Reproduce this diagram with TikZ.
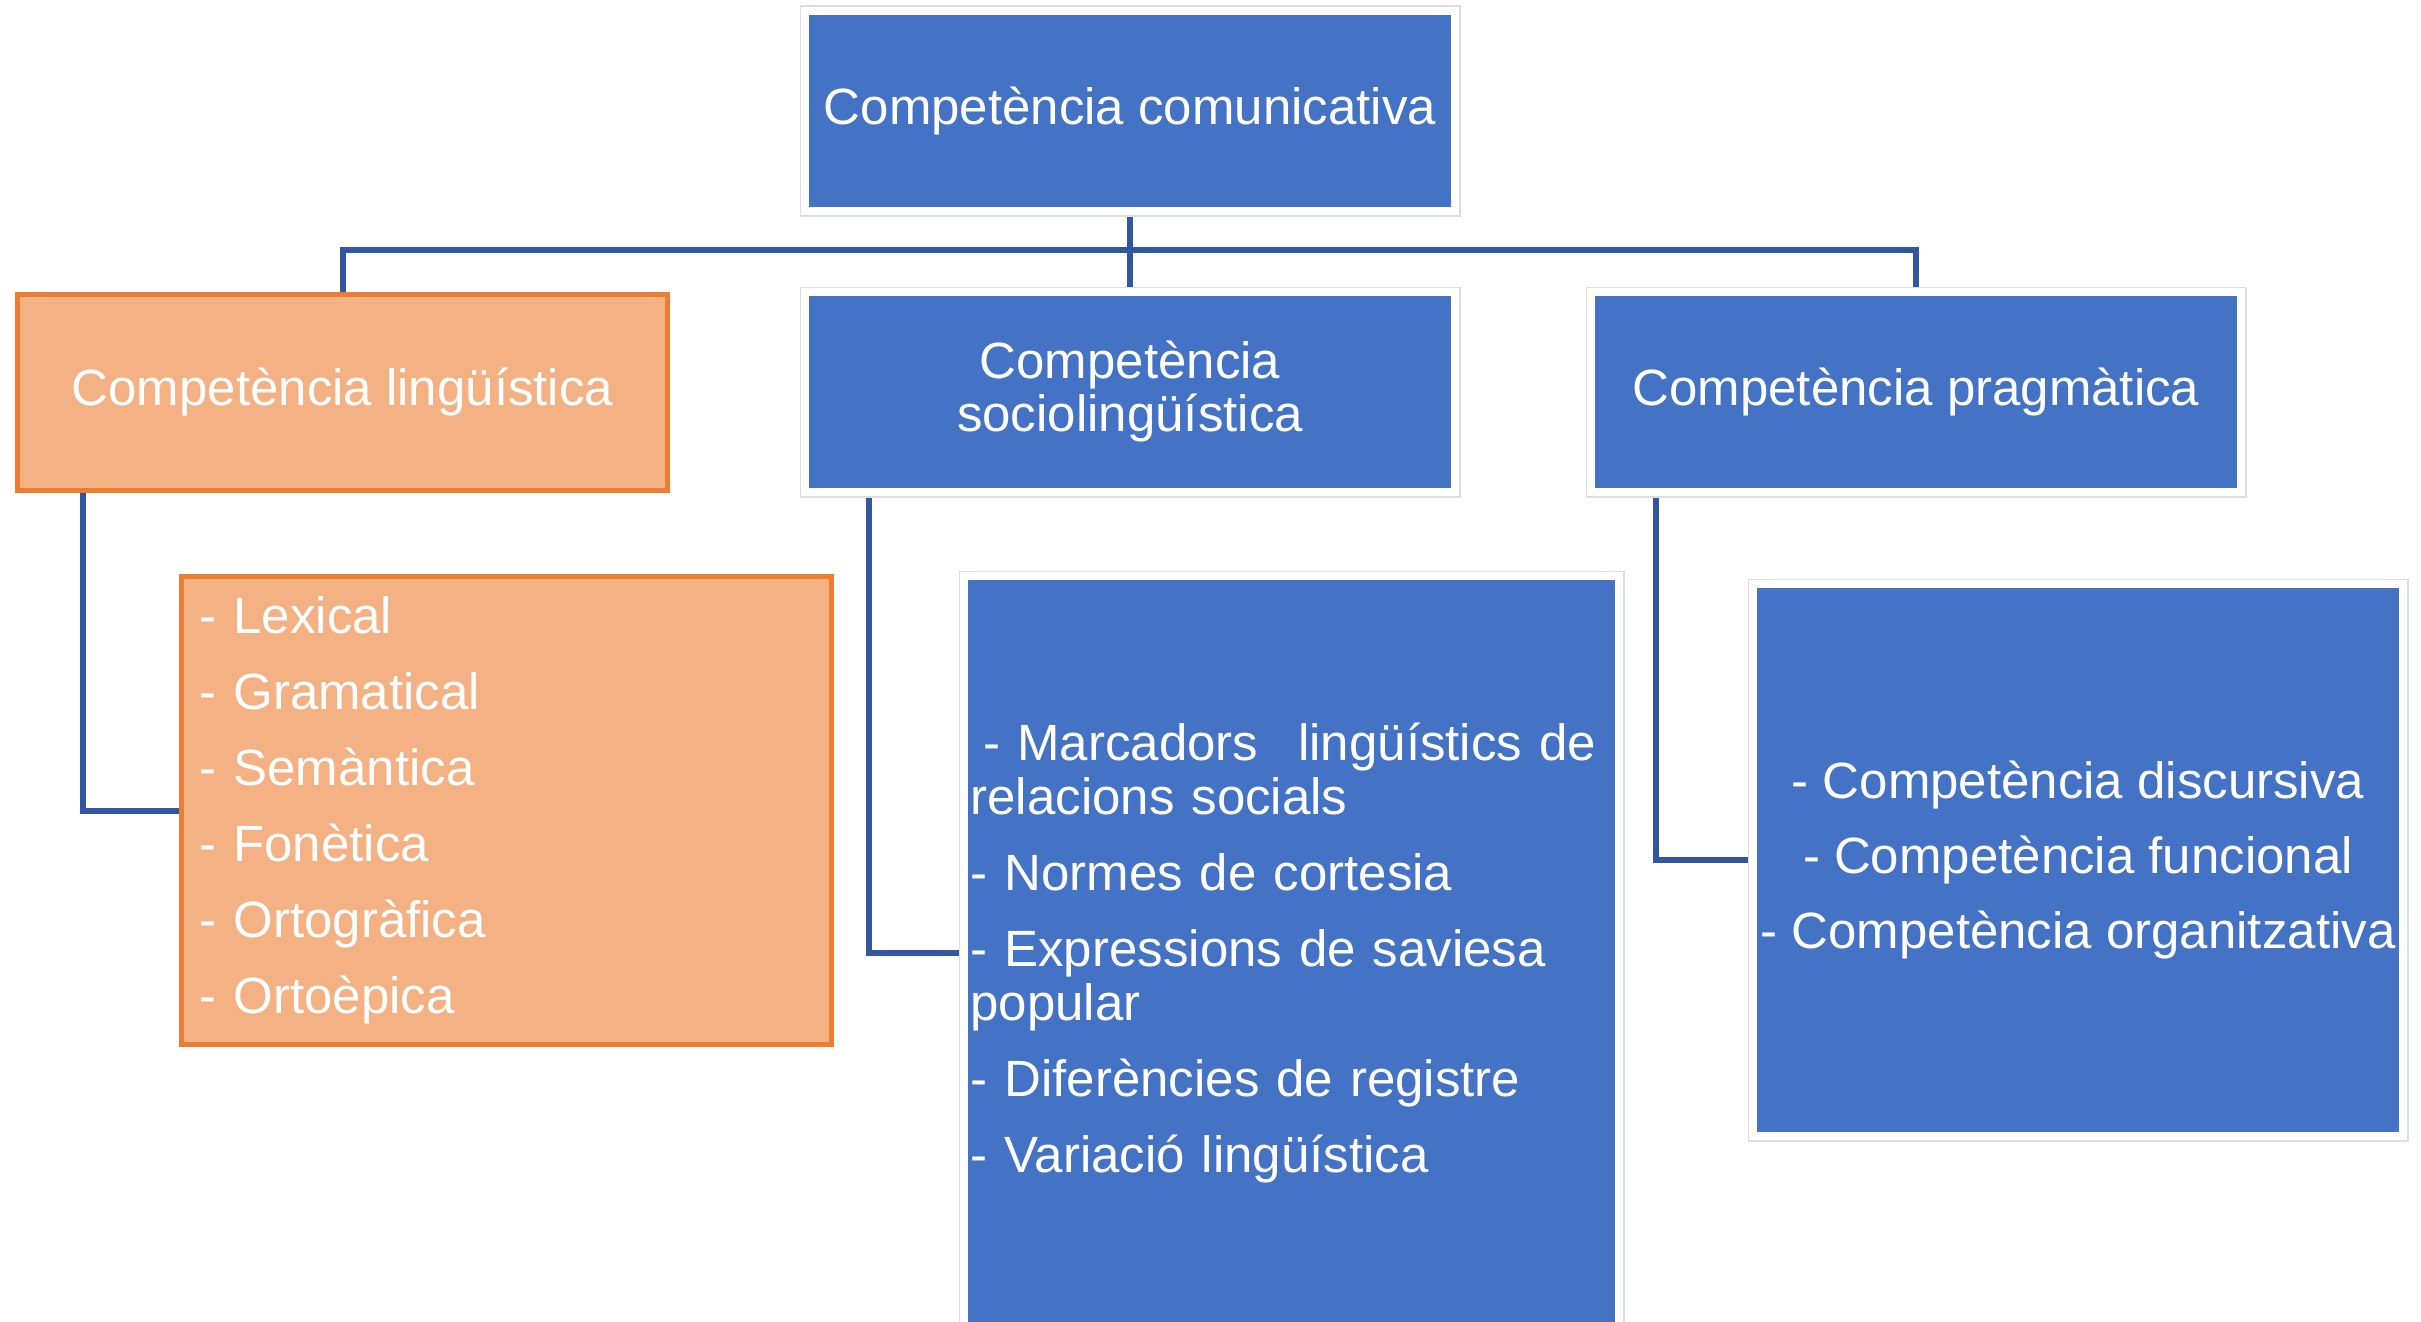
\documentclass[tikz,border=0pt]{standalone}
\usepackage{fontspec}
\setmainfont{Liberation Sans}
\usetikzlibrary{backgrounds}
\definecolor{boxblue}{HTML}{4472C4}
\definecolor{linkblue}{HTML}{3356A0}
\definecolor{orfill}{HTML}{F4B183}
\definecolor{orline}{HTML}{ED7D31}
\tikzset{
  bluebox/.style={rectangle, fill=boxblue, draw=white, line width=8pt,
    preaction={draw=black!13, line width=11pt}, inner sep=0pt,
    text=white, font=\fontsize{51}{53}\selectfont},
  orbox/.style={rectangle, fill=orfill, draw=orline, line width=5pt, inner sep=0pt,
    text=white, font=\fontsize{51}{53}\selectfont},
  conn/.style={draw=linkblue, line width=6pt, line cap=rect}
}
\begin{document}
\begin{tikzpicture}[x=1pt,y=-1pt]
\useasboundingbox (0,0) rectangle (2421,1322);

\node[bluebox, minimum width=650pt, minimum height=200pt] (top) at (1130,111) {Competència comunicativa};

\node[orbox, minimum width=650pt, minimum height=196pt] (lin) at (342.5,392.5) {Competència lingüística};
\node[bluebox, minimum width=650pt, minimum height=200pt, align=center] (soc) at (1130,392) {Competència\\sociolingüística};
\node[bluebox, minimum width=650pt, minimum height=200pt] (prag) at (1916,392) {Competència pragmàtica};

\node[orbox, minimum width=650pt, minimum height=468pt, text width=614pt, align=left,
      font=\fontsize{51}{76}\selectfont] (linlist) at (506.5,810.5)
  {- Lexical\\- Gramatical\\- Semàntica\\- Fonètica\\- Ortogràfica\\- Ortoèpica};

\node[bluebox, minimum width=655pt, minimum height=754pt, text width=642pt, align=left,
      font=\fontsize{51}{54}\selectfont] (soclist) at (1291.5,953)
  {\hspace*{13pt}- Marcadors\hspace{40pt}lingüístics de\\relacions socials\\[22pt]- Normes de cortesia\\[22pt]- Expressions de saviesa\\popular\\[22pt]- Diferències de registre\\[22pt]- Variació lingüística};

\node[bluebox, minimum width=650pt, minimum height=552pt, align=center,
      font=\fontsize{51}{75}\selectfont] (praglist) at (2078,860)
  {- Competència discursiva\\- Competència funcional\\- Competència organitzativa};

\coordinate (bus) at (1130,250);

\begin{scope}[on background layer]
\fill[white] (0,0) rectangle (2421,1322);
\draw[conn] (top.south) -- (soc.north);
\draw[conn] (lin.north) -- (lin.north |- bus) -| (prag.north);
\draw[conn] ([xshift=67.5pt]lin.south west) |- (linlist.west);
\draw[conn] ([xshift=68pt]soc.south west) |- (soclist.west);
\draw[conn] ([xshift=69pt]prag.south west) |- (praglist.west);
\end{scope}
\end{tikzpicture}
\end{document}
